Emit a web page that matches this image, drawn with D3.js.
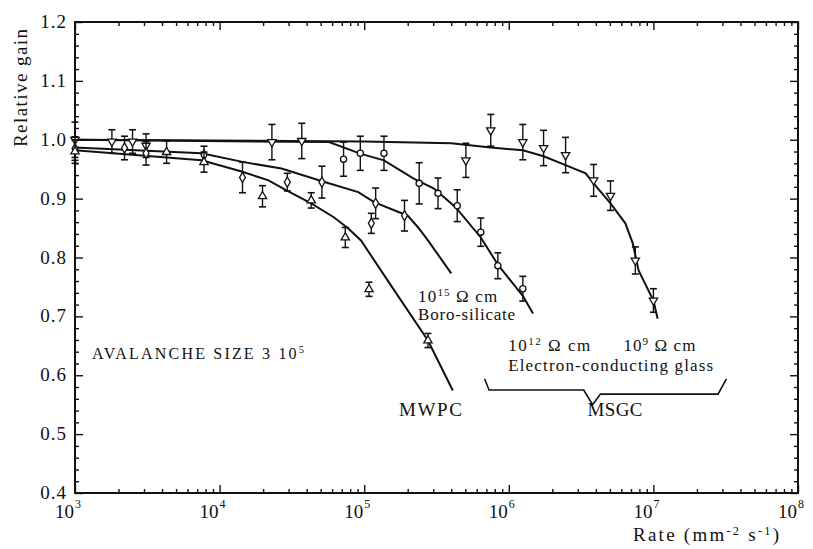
<!DOCTYPE html>
<html>
<head>
<meta charset="utf-8">
<script src="https://cdn.jsdelivr.net/npm/d3@7"></script>
<style>
body { margin: 0; background: #fff; }
svg text { font-family: 'Liberation Serif', 'Times New Roman', serif; fill: #111; }
</style>
</head>
<body>
<script>
// measured points (rate in mm^-2 s^-1, relative gain, error)
var glass9Rate = [1.0e3, 1.8e3, 2.5e3, 3.1e3, 2.3e4, 3.7e4, 5.05e5, 7.5e5, 1.25e6, 1.74e6, 2.47e6, 3.86e6, 5.05e6, 7.5e6, 1.0e7];
var glass9Gain = [1.0, 0.997, 0.997, 0.99, 0.996, 0.998, 0.965, 1.016, 0.996, 0.986, 0.974, 0.931, 0.905, 0.795, 0.727];
var glass9Err  = [0.03, 0.02, 0.02, 0.02, 0.03, 0.03, 0.029, 0.027, 0.03, 0.03, 0.03, 0.027, 0.025, 0.023, 0.02];

var glass12Rate = [7.2e4, 9.4e4, 1.37e5, 2.4e5, 3.24e5, 4.4e5, 6.4e5, 8.4e5, 1.25e6];
var glass12Gain = [0.967, 0.977, 0.977, 0.926, 0.909, 0.888, 0.843, 0.786, 0.747];
var glass12Err  = [0.029, 0.029, 0.029, 0.035, 0.026, 0.027, 0.024, 0.022, 0.021];

var boroRate = [1.0e3, 2.2e3, 3.1e3, 7.8e3, 1.44e4, 2.94e4, 5.1e4, 1.12e5, 1.2e5, 1.9e5];
var boroGain = [0.985, 0.986, 0.977, 0.974, 0.936, 0.928, 0.928, 0.858, 0.892, 0.871];
var boroErr  = [0.02, 0.02, 0.02, 0.015, 0.026, 0.015, 0.027, 0.017, 0.026, 0.026];

var mwpcRate = [1.0e3, 4.3e3, 7.8e3, 1.98e4, 4.3e4, 7.4e4, 1.08e5, 2.76e5];
var mwpcGain = [0.98, 0.979, 0.962, 0.904, 0.897, 0.834, 0.746, 0.659];
var mwpcErr  = [0.02, 0.019, 0.017, 0.018, 0.013, 0.017, 0.012, 0.012];

// fitted curves
var curve9Rate = [1e3, 1e5, 4e5, 7.5e5, 1.25e6, 1.74e6, 2.47e6, 3.4e6, 3.86e6, 5.05e6, 6.4e6, 7.2e6, 7.9e6, 1.0e7, 1.07e7];
var curve9Gain = [1.0, 0.997, 0.994, 0.987, 0.982, 0.972, 0.957, 0.943, 0.926, 0.892, 0.858, 0.824, 0.778, 0.727, 0.696];

var curve12Rate = [1e3, 5.7e4, 9.5e4, 1.37e5, 2.2e5, 3.04e5, 4.3e5, 6.4e5, 8.5e5, 1.25e6, 1.47e6];
var curve12Gain = [1.0, 0.996, 0.976, 0.965, 0.934, 0.917, 0.885, 0.834, 0.786, 0.735, 0.705];

var curveBoroRate = [1e3, 7.5e3, 1.47e4, 2.68e4, 5.05e4, 9.1e4, 1.17e5, 2.0e5, 2.36e5, 2.76e5, 4.0e5];
var curveBoroGain = [0.987, 0.977, 0.962, 0.951, 0.93, 0.911, 0.894, 0.871, 0.851, 0.829, 0.773];

var curveMwpcRate = [1e3, 7.5e3, 1.42e4, 2.18e4, 2.9e4, 4.3e4, 6.2e4, 7.8e4, 9.5e4, 1.47e5, 2.76e5, 4.1e5];
var curveMwpcGain = [0.982, 0.965, 0.946, 0.931, 0.914, 0.892, 0.868, 0.849, 0.829, 0.759, 0.659, 0.574];

// brace under the MSGC curves
var braceRate = [6.8e5, 7.3e5, 3.3e6, 3.8e6, 4.3e6, 2.8e7, 3.2e7];
var braceGain = [0.594, 0.575, 0.575, 0.55, 0.568, 0.568, 0.594];

var xMajor = [1e3, 1e4, 1e5, 1e6, 1e7, 1e8];
var yMajor = [0.4, 0.5, 0.6, 0.7, 0.8, 0.9, 1.0, 1.1, 1.2];

var svgWidth = 813;
var svgHeight = 549;

var svg = d3.select('body')
    .append('svg')
    .attr('width', svgWidth)
    .attr('height', svgHeight);

var x = d3.scaleLog().domain([1e3, 1e8]).range([75, 798]);
var y = d3.scaleLinear().domain([0.4, 1.2]).range([493, 22]);

var xMinor = [];
xMajor.slice(0, -1).forEach(function (d) {
    for (var k = 2; k < 10; k++) xMinor.push(d * k);
});
var yMinor = d3.range(40, 121, 2).map(function (d) { return d / 100; })
    .filter(function (d) { return Math.round(d * 100) % 10 !== 0; });

function tickAxis(axis, scale, values, size, transform) {
    svg.append('g')
        .attr('transform', transform)
        .call(axis(scale).tickValues(values).tickSize(-size).tickFormat(''))
        .call(function (g) {
            g.select('.domain').remove();
            g.selectAll('line').attr('stroke', '#111').attr('stroke-width', 1.4);
        });
}

tickAxis(d3.axisBottom, x, xMinor, 4, 'translate(0,' + y(0.4) + ')');
tickAxis(d3.axisBottom, x, xMajor, 8, 'translate(0,' + y(0.4) + ')');
tickAxis(d3.axisTop, x, xMinor, 4, 'translate(0,' + y(1.2) + ')');
tickAxis(d3.axisTop, x, xMajor, 8, 'translate(0,' + y(1.2) + ')');
tickAxis(d3.axisLeft, y, yMinor, 4, 'translate(' + x(1e3) + ',0)');
tickAxis(d3.axisLeft, y, yMajor, 8, 'translate(' + x(1e3) + ',0)');
tickAxis(d3.axisRight, y, yMinor, 4, 'translate(' + x(1e8) + ',0)');
tickAxis(d3.axisRight, y, yMajor, 8, 'translate(' + x(1e8) + ',0)');

// frame
svg.append('rect')
    .attr('x', x(1e3))
    .attr('y', y(1.2))
    .attr('width', x(1e8) - x(1e3))
    .attr('height', y(0.4) - y(1.2))
    .attr('fill', 'none')
    .attr('stroke', '#111')
    .attr('stroke-width', 2);

// y tick labels
svg.append('g').selectAll('text')
    .data(yMajor)
    .enter()
    .append('text')
    .attr('x', x(1e3) - 8)
    .attr('y', function (d) { return y(d) + 6; })
    .attr('text-anchor', 'end')
    .attr('font-size', 19)
    .attr('letter-spacing', 1)
    .text(d3.format('.1f'));

// x tick labels: 10 with superscript exponent
var xl = svg.append('g').selectAll('g')
    .data(xMajor)
    .enter()
    .append('g');
xl.append('text')
    .attr('x', function (d) { return x(d) - 1; })
    .attr('y', y(0.4) + 25)
    .attr('text-anchor', 'end')
    .attr('font-size', 19)
    .text('10');
xl.append('text')
    .attr('x', function (d) { return x(d); })
    .attr('y', y(0.4) + 15)
    .attr('font-size', 12)
    .text(function (d) { return Math.round(Math.log10(d)); });

// text with optional superscripts; parts are strings or ['up', text]
function richText(sel, parts, size) {
    var shift = 0;
    parts.forEach(function (p) {
        var ts = sel.append('tspan');
        if (Array.isArray(p)) {
            ts.attr('dy', -6 - shift).attr('font-size', size * 0.65).text(p[1]);
            shift = -6;
        } else {
            ts.attr('dy', -shift).text(p);
            shift = 0;
        }
    });
}

// axis titles
svg.append('text')
    .attr('transform', 'translate(27,' + 88 + ') rotate(-90)')
    .attr('text-anchor', 'middle')
    .attr('font-size', 19)
    .attr('textLength', 118)
    .attr('lengthAdjust', 'spacing')
    .text('Relative gain');

var xt = svg.append('text')
    .attr('x', 633)
    .attr('y', 541)
    .attr('font-size', 19)
    .attr('textLength', 146)
    .attr('lengthAdjust', 'spacing');
richText(xt, ['Rate (mm', ['up', '-2'], ' s', ['up', '-1'], ')'], 19);

// curves
var line = d3.line()
    .x(function (d) { return x(d[0]); })
    .y(function (d) { return y(d[1]); });

var curves = [
    d3.zip(curve9Rate, curve9Gain),
    d3.zip(curve12Rate, curve12Gain),
    d3.zip(curveBoroRate, curveBoroGain),
    d3.zip(curveMwpcRate, curveMwpcGain)
];

svg.append('g').selectAll('path')
    .data(curves)
    .enter()
    .append('path')
    .attr('d', line)
    .attr('fill', 'none')
    .attr('stroke', '#111')
    .attr('stroke-width', 2);

// points with error bars
var series = [
    { pts: d3.zip(glass9Rate, glass9Gain, glass9Err), sym: d3.symbolTriangle, rot: 180 },
    { pts: d3.zip(glass12Rate, glass12Gain, glass12Err), sym: d3.symbolCircle, rot: 0 },
    { pts: d3.zip(boroRate, boroGain, boroErr), sym: d3.symbolDiamond, rot: 0 },
    { pts: d3.zip(mwpcRate, mwpcGain, mwpcErr), sym: d3.symbolTriangle, rot: 0 }
];

series.forEach(function (s) {
    var g = svg.append('g').selectAll('g')
        .data(s.pts)
        .enter()
        .append('g');

    g.append('line')
        .attr('x1', function (d) { return x(d[0]); })
        .attr('x2', function (d) { return x(d[0]); })
        .attr('y1', function (d) { return y(d[1] - d[2]); })
        .attr('y2', function (d) { return y(d[1] + d[2]); })
        .attr('stroke', '#111')
        .attr('stroke-width', 1.4);

    [-1, 1].forEach(function (sgn) {
        g.append('line')
            .attr('x1', function (d) { return x(d[0]) - 3.5; })
            .attr('x2', function (d) { return x(d[0]) + 3.5; })
            .attr('y1', function (d) { return y(d[1] + sgn * d[2]); })
            .attr('y2', function (d) { return y(d[1] + sgn * d[2]); })
            .attr('stroke', '#111')
            .attr('stroke-width', 1.6);
    });

    g.append('path')
        .attr('d', d3.symbol().type(s.sym).size(30))
        .attr('transform', function (d) {
            return 'translate(' + x(d[0]) + ',' + y(d[1]) + ') rotate(' + s.rot + ')';
        })
        .attr('fill', '#fff')
        .attr('stroke', '#111')
        .attr('stroke-width', 1.3);
});

// brace
svg.append('path')
    .datum(d3.zip(braceRate, braceGain))
    .attr('d', line)
    .attr('fill', 'none')
    .attr('stroke', '#111')
    .attr('stroke-width', 1.6);

// annotations
function label(rate, gain, parts, size, len) {
    var t = svg.append('text')
        .attr('x', x(rate))
        .attr('y', y(gain))
        .attr('font-size', size)
        .attr('textLength', len)
        .attr('lengthAdjust', 'spacing');
    richText(t, parts, size);
}

label(1.31e3, 0.628, ['AVALANCHE SIZE 3 10', ['up', '5']], 16, 212);
label(2.36e5, 0.725, ['10', ['up', '15'], ' \u03A9 cm'], 17, 79);
label(2.36e5, 0.693, ['Boro-silicate'], 17, 97);
label(9.9e5, 0.642, ['10', ['up', '12'], ' \u03A9 cm'], 17, 82);
label(6.2e6, 0.642, ['10', ['up', '9'], ' \u03A9 cm'], 17, 72);
label(9.9e5, 0.608, ['Electron-conducting glass'], 17, 205);
label(1.74e5, 0.531, ['MWPC'], 19, 63);
label(3.5e6, 0.530, ['MSGC'], 19, 55);
</script>
</body>
</html>
